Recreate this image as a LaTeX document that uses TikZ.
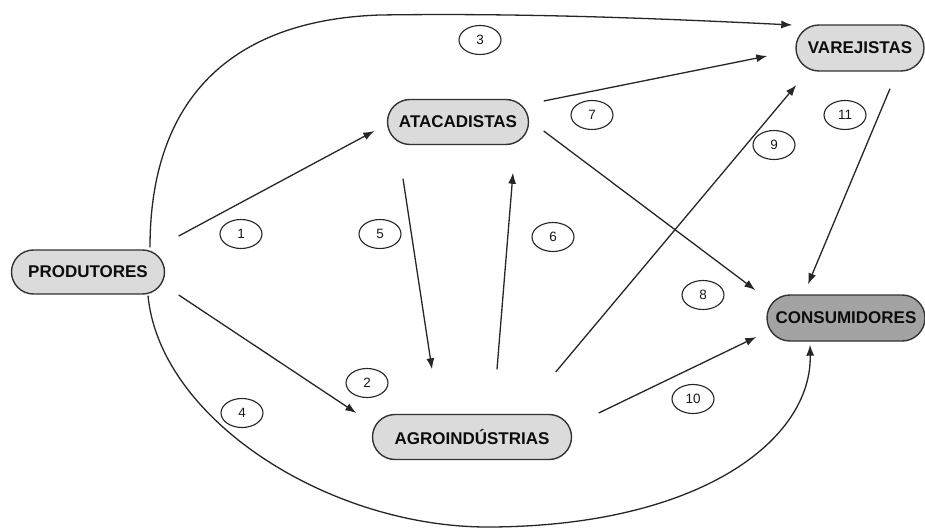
\documentclass[tikz,border=0pt]{standalone}
\usepackage{fontspec}
\setmainfont{Liberation Sans}
\usetikzlibrary{shapes.misc,shapes.geometric,arrows.meta,calc}
\begin{document}
\begin{tikzpicture}[x=1pt,y=-1pt,
  actor/.style={rounded rectangle, draw=black!80, line width=1.4pt, fill=black!14,
    font=\fontsize{17}{19}\selectfont\bfseries, text=black!95, inner sep=0pt},
  actordark/.style={actor, fill=black!36},
  tag/.style={ellipse, draw=black!85, line width=1.1pt, minimum width=42pt, minimum height=29pt,
    inner sep=0pt, font=\fontsize{13.5}{15}\selectfont, text=black!90},
  arr/.style={draw=black!85, line width=1.3pt, -{Latex[length=11pt,width=8pt]}}
]
\useasboundingbox (0,0) rectangle (925,529);
\fill[white] (0,0) rectangle (925,529);

\node[actor, minimum width=153pt, minimum height=44pt] (prod) at (88,272) {PRODUTORES};
\node[actor, minimum width=141pt, minimum height=45pt] (atac) at (458,122) {ATACADISTAS};
\node[actor, minimum width=128pt, minimum height=46pt] (varej) at (860,48) {VAREJISTAS};
\node[actordark, minimum width=158pt, minimum height=46pt] (cons) at (846,318) {CONSUMIDORES};
\node[actor, minimum width=199pt, minimum height=45pt] (agro) at (472,437) {AGROINDÚSTRIAS};

\node[tag] (t1) at (241,234) {1};
\node[tag] (t2) at (367,383) {2};
\node[tag] (t3) at (480,40) {3};
\node[tag] (t4) at (242,413) {4};
\node[tag] (t5) at (380,234) {5};
\node[tag] (t6) at (553,237) {6};
\node[tag] (t7) at (592,115) {7};
\node[tag] (t8) at (703,295) {8};
\node[tag] (t9) at (774,145) {9};
\node[tag] (t10) at (693,399) {10};
\node[tag] (t11) at (845,115) {11};

% 1
\draw[arr] ($(prod.east)+(13.5,-36)$) -- ($(atac.west)+(-12.5,9)$);
% 2
\draw[arr] ($(prod.east)+(13.5,23)$) -- ($(agro.west)+(-15.5,-24)$);
% 3
\draw[arr] ($(prod.north)+(62,-2)$) .. controls (150,100) and (230,20) .. (380,15)
  .. controls (520,13) and (650,18) .. ($(varej.west)+(-3,-23)$);
% 4
\draw[arr] ($(prod.south)+(60,1)$) .. controls (160,420) and (330,528) .. (490,527)
  .. controls (700,526) and (812,440) .. ($(cons.south)+(-36,3)$);
% 5
\draw[arr] ($(atac.south)+(-55,33.5)$) -- ($(agro.north)+(-40,-44.5)$);
% 6
\draw[arr] ($(agro.north)+(25,-44.5)$) -- ($(atac.south)+(55,27.5)$);
% 7
\draw[arr] ($(atac.east)+(14.5,-21)$) -- ($(varej.west)+(-28,8)$);
% 8
\draw[arr] ($(atac.east)+(14.5,9)$) -- ($(cons.west)+(-11,-28)$);
% 9
\draw[arr] ($(agro.east)+(-16.5,-65)$) -- ($(varej.west)+(1,37)$);
% 10
\draw[arr] ($(agro.east)+(26.5,-24)$) -- ($(cons.west)+(-10,19)$);
% 11
\draw[arr] ($(varej.south)+(30,17)$) -- ($(cons.north)+(-38,-10)$);
\end{tikzpicture}
\end{document}
